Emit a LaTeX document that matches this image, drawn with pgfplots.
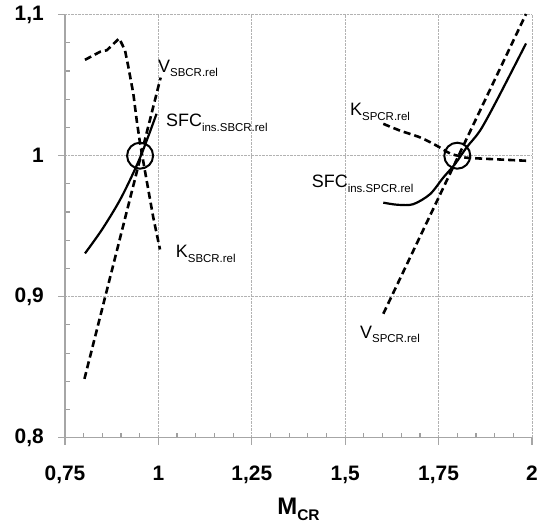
\documentclass[border=0pt]{standalone}
\usepackage{fontspec}
\setmainfont{Liberation Sans}
\usepackage{pgfplots}
\pgfplotsset{compat=1.18}

\newcommand{\lab}[2]{#1\raisebox{-4.5bp}{\fontsize{11.5}{12}\selectfont #2}}

\begin{document}
\begin{tikzpicture}
\begin{axis}[name=ax, at={(0,0)}, anchor=south west,
  scale only axis, width=467bp, height=423bp,
  xmin=0.75, xmax=2, ymin=0.8, ymax=1.1,
  xtick={0.75,1,1.25,1.5,1.75,2}, ytick={0.8,0.9,1,1.1},
  minor xtick={0.8,0.85,0.9,0.95,1.05,1.1,1.15,1.2,1.3,1.35,1.4,1.45,1.55,1.6,1.65,1.7,1.8,1.85,1.9,1.95},
  minor ytick={0.82,0.84,0.86,0.88,0.92,0.94,0.96,0.98,1.02,1.04,1.06,1.08},
  axis lines*=left,
  axis line style={gray!70, line width=1.5bp},
  grid=major,
  major grid style={densely dotted, gray!60, line width=0.9bp},
  minor grid style={draw=none},
  tick align=inside, major tick length=0pt, minor tick length=5bp,
  minor tick style={gray!75, line width=1.2bp},
  /pgf/number format/use comma,
  /pgf/number format/assume math mode=true,
  tick label style={font=\fontsize{21}{24}\selectfont\bfseries, inner sep=0pt},
  xticklabel style={anchor=base, yshift=-42.3bp},
  yticklabel style={anchor=east, xshift=-21bp},
  xlabel={\bfseries\fontsize{24}{26}\selectfont M\raisebox{-6bp}{\fontsize{15.5}{16}\selectfont CR}},
  xlabel style={at={(axis description cs:0.5,0)}, anchor=base, yshift=-76.3bp, inner sep=0pt},
  every axis plot/.append style={black},
  clip=false,
]
% outward stubs at the major ticks
\pgfplotsinvokeforeach{0.75,1,1.25,1.5,1.75,2}{
  \draw[gray!70, line width=1.2bp] (axis cs:#1,0.8) -- ([yshift=-7bp]axis cs:#1,0.8);}
\pgfplotsinvokeforeach{0.8,0.9,1,1.1}{
  \draw[gray!70, line width=1.2bp] (axis cs:0.75,#1) -- ([xshift=-7bp]axis cs:0.75,#1);}
% K_SBCR.rel
\addplot[line width=2.6bp, dash pattern=on 7bp off 4bp] coordinates {
 (0.8035,1.068) (0.844,1.0737) (0.862,1.0748) (0.895,1.0832) (0.9106,1.0748)
 (0.9195,1.0631) (0.9329,1.044) (0.942,1.025) (0.951,1.0087) (0.9687,0.9822)
 (0.9864,0.956) (1.0043,0.9335)};
% V_SBCR.rel
\addplot[line width=2.6bp, dash pattern=on 7bp off 4bp] coordinates {
 (0.802,0.8417) (1.006,1.0554)};
% SFC_ins.SBCR.rel
\addplot[line width=2.2bp, smooth] coordinates {
 (0.8035,0.9307) (0.85,0.948) (0.90,0.970) (0.95,0.998) (0.995,1.0297)};
% V_SPCR.rel
\addplot[line width=2.6bp, dash pattern=on 7bp off 4bp] coordinates {
 (1.602,0.8879) (1.984,1.1005)};
% SFC_ins.SPCR.rel
\addplot[line width=2.2bp, smooth] coordinates {
 (1.602,0.9667) (1.64,0.9652) (1.682,0.9656) (1.727,0.9727) (1.7626,0.9845)
 (1.794,0.9941) (1.825,1.0059) (1.861,1.0178) (1.9056,1.0392) (1.984,1.0796)};
% K_SPCR.rel
\addplot[line width=2.6bp, dash pattern=on 7bp off 4bp, smooth] coordinates {
 (1.602,1.0226) (1.6467,1.0178) (1.7002,1.013) (1.7449,1.0071) (1.7805,1.0016)
 (1.81,0.9995) (1.834,0.9984) (1.9858,0.9964)};
% circles
\addplot[only marks, mark=o, mark size=13bp, mark options={solid, line width=2bp}] coordinates {
 (0.951,1.0) (1.80,1.0)};

\node[anchor=base west, inner sep=0pt, font=\fontsize{18}{20}\selectfont] at (axis cs:0.999,1.0592) {\lab{V}{SBCR.rel}};
\node[anchor=base west, inner sep=0pt, font=\fontsize{18}{20}\selectfont] at (axis cs:1.0203,1.0207) {\lab{SFC}{ins.SBCR.rel}};
\node[anchor=base west, inner sep=0pt, font=\fontsize{18}{20}\selectfont] at (axis cs:1.0463,0.9275) {\lab{K}{SBCR.rel}};
\node[anchor=base west, inner sep=0pt, font=\fontsize{18}{20}\selectfont] at (axis cs:1.5129,1.0285) {\lab{K}{SPCR.rel}};
\node[anchor=base west, inner sep=0pt, font=\fontsize{18}{20}\selectfont] at (axis cs:1.4103,0.9774) {\lab{SFC}{ins.SPCR.rel}};
\node[anchor=base west, inner sep=0pt, font=\fontsize{18}{20}\selectfont] at (axis cs:1.5396,0.8705) {\lab{V}{SPCR.rel}};
\end{axis}
\pgfresetboundingbox
\path[use as bounding box] (-65bp,-85.3bp) rectangle (480bp,437.7bp);
\end{tikzpicture}
\end{document}
